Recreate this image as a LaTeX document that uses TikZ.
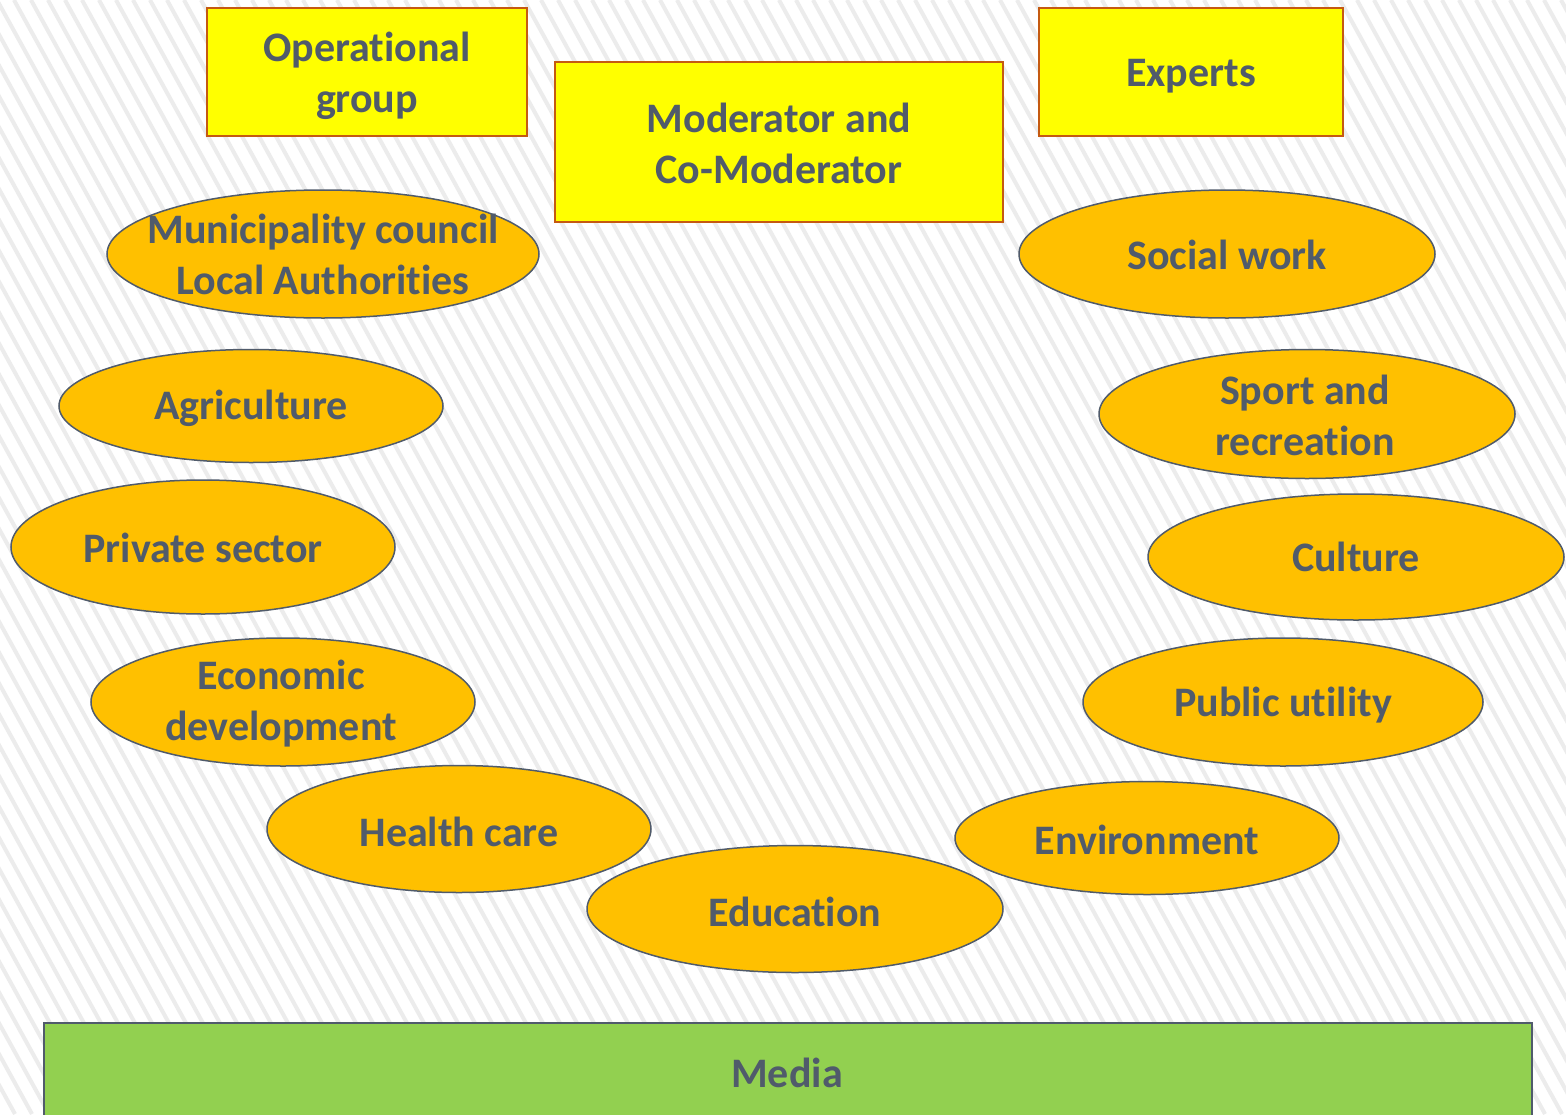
\documentclass[tikz,border=0pt]{standalone}
\usepackage{fontspec}
\setmainfont[Ligatures={NoCommon}]{Carlito}
\usetikzlibrary{shapes.geometric}
\definecolor{txt}{RGB}{80,91,107}
\definecolor{orng}{RGB}{255,192,0}
\definecolor{yel}{RGB}{255,255,0}
\definecolor{rbord}{RGB}{197,90,17}
\definecolor{grn}{RGB}{146,208,80}
\definecolor{stripe}{RGB}{236,236,236}
\tikzset{
  oval/.style={ellipse, draw=txt, line width=1.5pt, fill=orng, inner sep=0pt},
  ybox/.style={rectangle, draw=rbord, line width=2.5pt, fill=yel, inner sep=0pt},
  lbl/.style={font=\fontsize{42}{51}\selectfont\bfseries, text=txt, align=center, inner sep=0pt},
}
\begin{document}
\begin{tikzpicture}[x=1pt,y=-1pt]
\useasboundingbox (0,0) rectangle (1566,1114);
\fill[white] (0,0) rectangle (1566,1114);
\begin{scope}
\clip (0,0) rectangle (1566,1114);
\foreach \i in {-700,-683,...,1580} {
  \draw[stripe, line width=4pt] (\i,0) -- ++(613,1114);
}
\end{scope}
% rectangles
\node[ybox, minimum width=320pt, minimum height=128pt] (op) at (367,72) {};
\node[lbl] (opT) at (367,76) {Operational\\group};
\node[ybox, minimum width=448pt, minimum height=160pt] (mod) at (779,142) {};
\node[lbl] (modT) at (779,143) {Moderator and\\Co-Moderator};
\node[ybox, minimum width=304pt, minimum height=128pt] (exp) at (1191,72) {};
\node[lbl] (expT) at (1191,76) {Experts};
% media
\node[rectangle, draw=txt, line width=2pt, fill=grn, minimum width=1488pt, minimum height=110pt, inner sep=0pt, anchor=north west] (media) at (43,1022) {};
\node[lbl] (mediaT) at (787,1073) {Media};
% ellipses
\node[oval, minimum width=432pt, minimum height=128pt] (mun) at (323,254) {};
\node[lbl] (munT) at (323,254) {Municipality council\\Local Authorities};
\node[oval, minimum width=384pt, minimum height=113pt] (agr) at (251,406) {};
\node[lbl] (agrT) at (251,408) {Agriculture};
\node[oval, minimum width=384pt, minimum height=134pt] (priv) at (203,547) {};
\node[lbl] (privT) at (203,548) {Private sector};
\node[oval, minimum width=384pt, minimum height=128pt] (eco) at (283,702) {};
\node[lbl] (ecoT) at (281,704) {Economic\\development};
\node[oval, minimum width=384pt, minimum height=127pt] (hea) at (459,829) {};
\node[lbl] (heaT) at (459,832) {Health care};
\node[oval, minimum width=416pt, minimum height=127pt] (edu) at (795,909) {};
\node[lbl] (eduT) at (795,912) {Education};
\node[oval, minimum width=384pt, minimum height=113pt] (env) at (1147,838) {};
\node[lbl] (envT) at (1147,840) {Environment};
\node[oval, minimum width=400pt, minimum height=128pt] (pub) at (1283,702) {};
\node[lbl] (pubT) at (1283,705) {Public utility};
\node[oval, minimum width=416pt, minimum height=126pt] (cul) at (1356,557) {};
\node[lbl] (culT) at (1356,557) {Culture};
\node[oval, minimum width=416pt, minimum height=129pt] (spo) at (1307,414) {};
\node[lbl] (spoT) at (1305,415) {Sport and\\recreation};
\node[oval, minimum width=416pt, minimum height=128pt] (soc) at (1227,254) {};
\node[lbl] (socT) at (1227,255) {Social work};
\end{tikzpicture}
\end{document}
